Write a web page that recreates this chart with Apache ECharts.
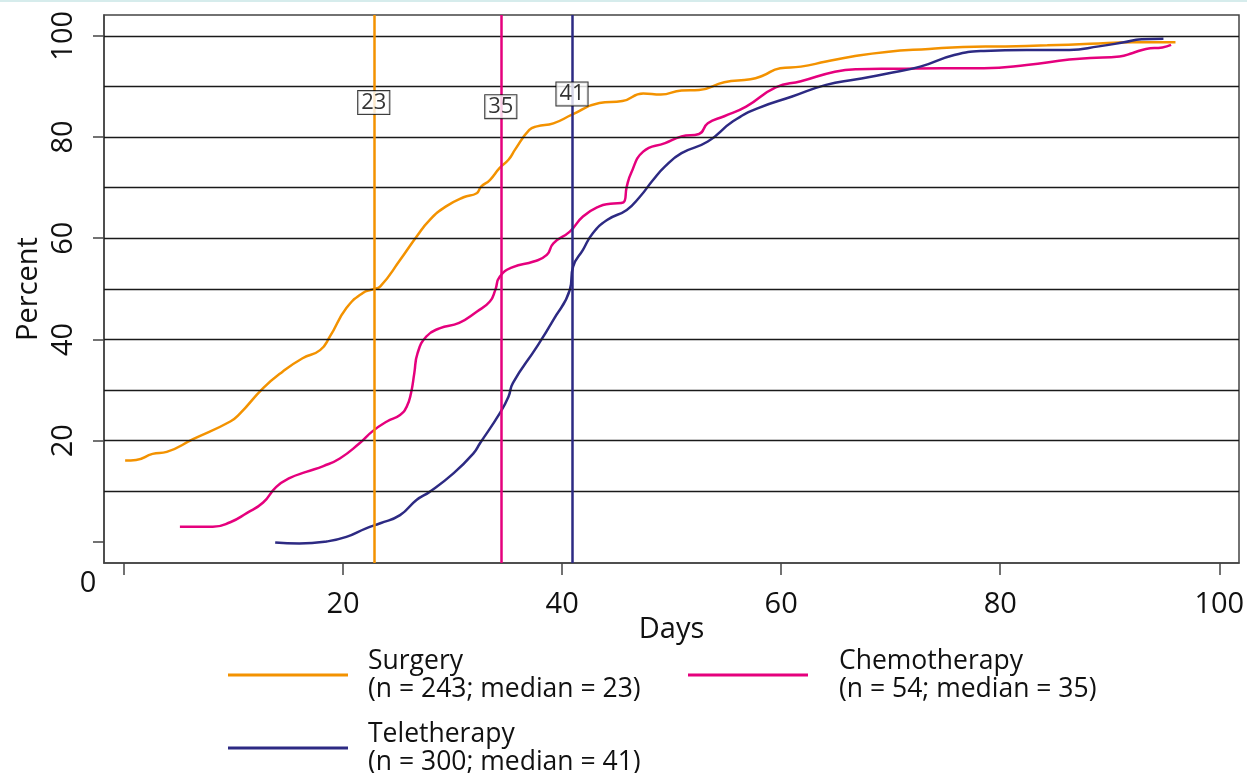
<!DOCTYPE html>
<html><head><meta charset="utf-8">
<script src="https://cdn.jsdelivr.net/npm/echarts@6/dist/echarts.min.js"></script>
<style>html,body{margin:0;padding:0;background:#fff}#c{width:1247px;height:773px}</style>
</head><body><div id="c"></div>
<script>
const seriesNames = ['Surgery', 'Chemotherapy', 'Teletherapy'];
const seriesNotes = ['(n = 243; median = 23)', '(n = 54; median = 35)', '(n = 300; median = 41)'];
const seriesColors = ['#F39200', '#E5007D', '#2D2A83'];

const surgery = [[0.1,16.1],[1.1,16.2],[2.6,17.4],[3.9,17.8],[6.3,20.3],[9.7,23.8],[10.6,25.4],[12.7,30.4],[14.5,33.7],[16.3,36.3],[17.9,37.9],[18.8,40.6],[20.3,46.2],[21.8,49.2],[22.7,49.9],[23.4,50.5],[25.2,55.7],[26.7,60.3],[27.9,63.6],[29.4,66.3],[31.0,68.1],[32.2,68.9],[32.6,70.2],[33.4,71.5],[34.3,73.9],[35.1,75.5],[35.7,77.5],[37.0,81.4],[37.7,82.1],[39.2,82.7],[40.9,84.4],[43.4,86.7],[45.5,87.1],[47.4,88.6],[49.0,88.4],[50.9,89.2],[52.5,89.3],[54.8,90.8],[57.2,91.4],[58.3,92.1],[59.9,93.6],[61.8,93.9],[64.1,94.9],[66.5,95.9],[69.6,96.8],[73.5,97.4],[76.6,97.8],[80.5,97.9],[84.3,98.1],[88.2,98.4],[92.1,98.7],[96.0,98.7]];
const chemotherapy = [[5.1,3.0],[8.1,3.0],[9.7,3.9],[11.2,5.7],[12.7,7.8],[13.9,10.9],[15.1,12.6],[16.7,13.9],[18.2,15.0],[19.7,16.5],[21.5,19.5],[22.7,21.9],[24.0,23.8],[25.2,25.1],[25.8,26.7],[26.2,29.4],[26.5,33.3],[26.8,37.3],[27.6,40.6],[28.8,42.2],[30.6,43.3],[32.2,45.5],[33.4,47.5],[33.9,49.8],[34.3,52.4],[35.5,54.3],[37.4,55.4],[38.6,56.7],[39.2,59.0],[40.7,61.3],[41.9,64.3],[43.4,66.3],[44.4,66.8],[45.6,67.1],[45.9,70.2],[46.3,72.9],[47.4,77.1],[49.4,78.8],[50.9,80.1],[52.5,80.6],[53.3,82.7],[54.8,84.1],[56.8,86.0],[59.5,89.8],[61.8,91.0],[64.9,92.9],[66.9,93.4],[70.7,93.5],[74.6,93.6],[78.5,93.6],[82.4,94.2],[86.3,95.3],[88.2,95.6],[90.9,95.9],[92.1,96.6],[93.3,97.4],[94.8,97.7],[95.6,98.2]];
const teletherapy = [[13.8,-0.1],[16.0,-0.3],[18.5,0.1],[20.3,1.0],[22.1,2.7],[23.4,3.7],[25.2,5.3],[26.7,8.3],[27.9,9.9],[30.1,13.6],[31.9,17.5],[32.5,19.5],[34.3,25.4],[35.1,28.7],[35.5,31.4],[37.7,38.6],[39.2,43.9],[40.7,49.8],[41.0,54.4],[41.9,57.7],[42.8,61.0],[44.1,63.6],[45.9,65.6],[47.1,68.2],[48.3,71.5],[49.4,74.2],[50.9,76.8],[53.3,79.1],[55.6,83.1],[57.9,85.7],[61.0,88.0],[64.1,90.3],[66.9,91.4],[69.6,92.5],[72.7,93.9],[75.8,96.2],[78.5,97.0],[82.4,97.2],[86.3,97.2],[89.0,97.9],[91.3,98.7],[92.9,99.3],[94.9,99.4]];
const seriesData = [surgery, chemotherapy, teletherapy];

const medianDays = [22.8, 34.4, 40.9];
const medianLabels = ['23', '35', '41'];
const medianLabelPct = [86.8, 86.0, 88.5];

const xTickValues = [0, 20, 40, 60, 80, 100];
const xLabelValues = [20, 40, 60, 80, 100];
const yTickValues = [0, 20, 40, 60, 80, 100];
const yLabelValues = [20, 40, 60, 80, 100];
const gridLineValues = [10, 20, 30, 40, 50, 60, 70, 80, 90, 100];
const originLabel = '0';
const xTitle = 'Days';
const yTitle = 'Percent';

const FONT = 'Open Sans';
const chart = echarts.init(document.getElementById('c'), null, {renderer: 'canvas'});

const lineSeries = seriesNames.map((n, i) => ({
  name: n,
  type: 'line',
  data: seriesData[i],
  showSymbol: false,
  symbol: 'none',
  smooth: 0.5,
  lineStyle: {color: seriesColors[i], width: 2.5},
  itemStyle: {color: seriesColors[i]},
  z: 4,
  animation: false,
  markLine: {
    silent: true, symbol: 'none', animation: false,
    label: {show: false},
    lineStyle: {color: seriesColors[i], width: 2.5, type: 'solid'},
    data: [{xAxis: medianDays[i]}]
  }
}));

const option = {
  animation: false,
  backgroundColor: '#fff',
  textStyle: {fontFamily: FONT},
  grid: {left: 104, right: 8, top: 15, bottom: 210, show: true, borderColor: '#444', borderWidth: 1.5, outerBoundsMode: 'none', containLabel: false},
  xAxis: {
    type: 'value', min: -1.83, max: 101.8,
    name: xTitle, nameLocation: 'middle', nameGap: 52, nameMoveOverlap: false,
    nameTextStyle: {fontSize: 29, color: '#111', fontFamily: FONT},
    axisLine: {show: true, onZero: false, lineStyle: {color: '#444', width: 1.5}},
    axisTick: {show: true, length: 12, lineStyle: {color: '#444', width: 1.5}, customValues: xTickValues},
    axisLabel: {show: true, fontSize: 29, color: '#111', fontFamily: FONT, margin: 27, customValues: xLabelValues},
    splitLine: {show: false}
  },
  yAxis: {
    type: 'value', min: -4.15, max: 104.1,
    name: yTitle, nameLocation: 'middle', nameGap: 61, nameRotate: 90, nameMoveOverlap: false,
    nameTextStyle: {fontSize: 29, color: '#111', fontFamily: FONT},
    axisLine: {show: true, onZero: false, lineStyle: {color: '#444', width: 1.5}},
    axisTick: {show: true, length: 11, lineStyle: {color: '#444', width: 1.5}, customValues: yTickValues},
    axisLabel: {show: true, rotate: 90, fontSize: 29, color: '#111', fontFamily: FONT, margin: 26, customValues: yLabelValues},
    splitLine: {show: false}
  },
  legend: seriesNames.map((n, i) => ({
    data: [n],
    left: [228, 688, 228][i],
    top: [647, 647, 720][i],
    padding: 0,
    icon: 'rect',
    itemWidth: 120,
    itemHeight: 3,
    selectedMode: false,
    formatter: (name) => name + '\n' + seriesNotes[seriesNames.indexOf(name)],
    textStyle: {fontSize: 26.5, lineHeight: 28, color: '#111', fontFamily: FONT, padding: [0, 0, 0, [15, 26, 15][i]]}
  })),
  graphic: [
    {type: 'rect', left: 0, top: 0, shape: {width: 1247, height: 2}, style: {fill: '#d6ecec'}, silent: true},
    {type: 'text', x: 88, y: 584, style: {text: originLabel, fontSize: 29, fontFamily: FONT, fill: '#111', align: 'center', verticalAlign: 'middle'}, silent: true}
  ],
  series: [
    {
      type: 'line', data: [], z: 2, silent: true,
      markLine: {
        silent: true, symbol: 'none', animation: false,
        label: {show: false},
        lineStyle: {color: '#1a1a1a', width: 1.3, type: 'solid'},
        data: gridLineValues.map(v => ({yAxis: v}))
      }
    },
    ...lineSeries,
    {
      type: 'scatter', z: 10, silent: true,
      symbolSize: 1,
      itemStyle: {color: 'rgba(0,0,0,0)'},
      data: medianDays.map((d, i) => ({value: [d, medianLabelPct[i]], name: medianLabels[i]})),
      label: {
        show: true, position: 'inside', formatter: p => p.name,
        fontSize: 22, color: '#000', fontFamily: FONT,
        backgroundColor: '#fff', borderColor: '#000', borderWidth: 1, padding: [1, 3, 0, 3]
      }
    }
  ]
};
chart.setOption(option);
</script></body></html>
